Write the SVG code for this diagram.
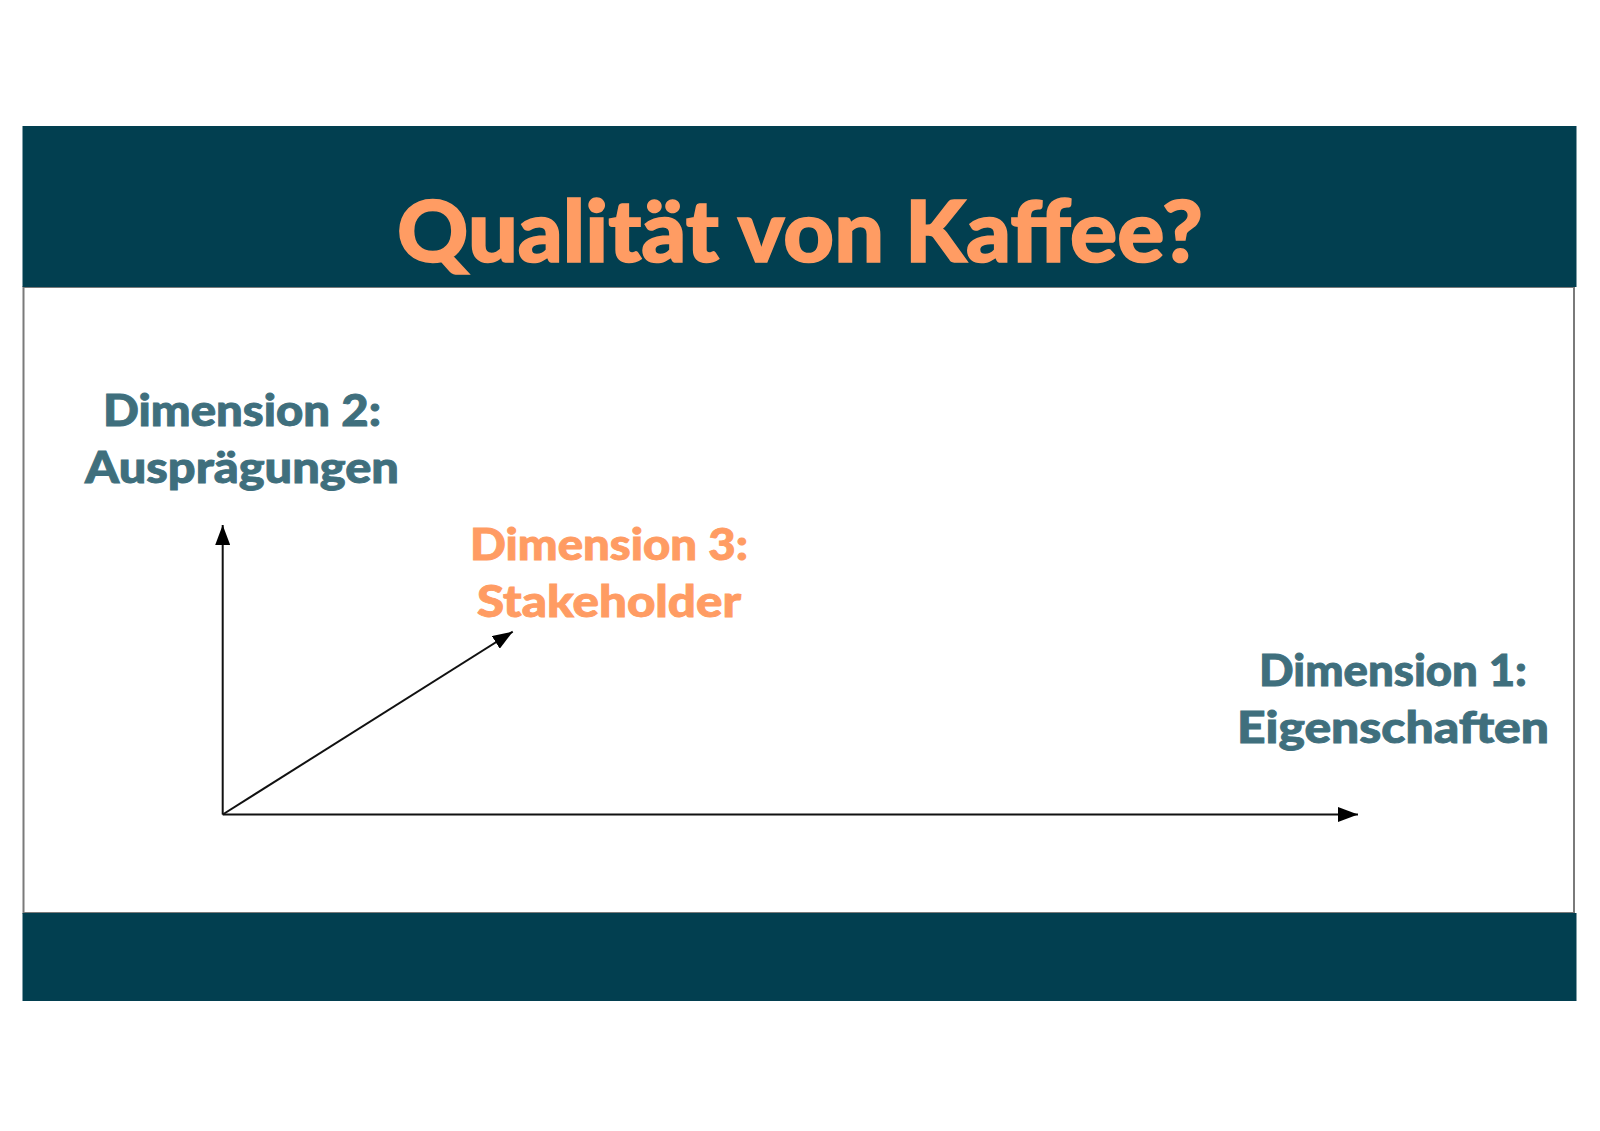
<svg xmlns="http://www.w3.org/2000/svg" width="1600" height="1131" viewBox="0 0 1600 1131">
  <style>
    .band { fill: #023F50; }
    .panel { fill: #FFFFFF; stroke: #7A7A7A; stroke-width: 2; }
    .title { font-family: "Lato", "Liberation Sans", sans-serif; font-weight: 900; fill: #FF9C63; stroke: #FF9C63; stroke-width: 1.6; text-anchor: middle; }
    .lbl { font-family: "Lato", "Liberation Sans", sans-serif; font-weight: 900; font-size: 43px; stroke-width: 0.9; text-anchor: middle; }
    .teal { fill: #3F6F7D; stroke: #3F6F7D; }
    .orange { fill: #FF9C63; stroke: #FF9C63; }
    .axis { stroke: #111111; stroke-width: 2; fill: none; marker-end: url(#arrow); }
  </style>
  <defs>
    <marker id="arrow" markerUnits="userSpaceOnUse" markerWidth="20" markerHeight="15" refX="20" refY="7.5" orient="auto">
      <path d="M0,0 L20,7.5 L0,15 z" fill="#000000"/>
    </marker>
  </defs>
  <rect x="0" y="0" width="1600" height="1131" fill="#FFFFFF"/>
  <g id="frame">
    <rect class="panel" x="23.5" y="287" width="1550.5" height="626"/>
    <rect class="band" x="22.5" y="126" width="1554" height="161"/>
    <rect class="band" x="22.5" y="913" width="1554" height="88"/>
  </g>
  <g id="title">
    <text class="title" x="800" y="262" font-size="86" textLength="806" lengthAdjust="spacingAndGlyphs">Qualität von Kaffee?</text>
  </g>
  <g id="dim2">
    <text class="lbl teal" x="242" y="426" textLength="278" lengthAdjust="spacingAndGlyphs">Dimension 2:</text>
    <text class="lbl teal" x="242" y="483" textLength="314" lengthAdjust="spacingAndGlyphs">Ausprägungen</text>
  </g>
  <g id="dim3">
    <text class="lbl orange" x="609" y="560" textLength="278" lengthAdjust="spacingAndGlyphs">Dimension 3:</text>
    <text class="lbl orange" x="609" y="617" textLength="264" lengthAdjust="spacingAndGlyphs">Stakeholder</text>
  </g>
  <g id="dim1">
    <text class="lbl teal" x="1393" y="686" textLength="268" lengthAdjust="spacingAndGlyphs">Dimension 1:</text>
    <text class="lbl teal" x="1393" y="743" textLength="312" lengthAdjust="spacingAndGlyphs">Eigenschaften</text>
  </g>
  <g id="connectors">
    <line class="axis" x1="222.7" y1="814.5" x2="222.7" y2="525"/>
    <line class="axis" x1="222.7" y1="814.5" x2="1358" y2="814.5"/>
    <line class="axis" x1="222.7" y1="814.5" x2="512.7" y2="631.7"/>
  </g>
</svg>
